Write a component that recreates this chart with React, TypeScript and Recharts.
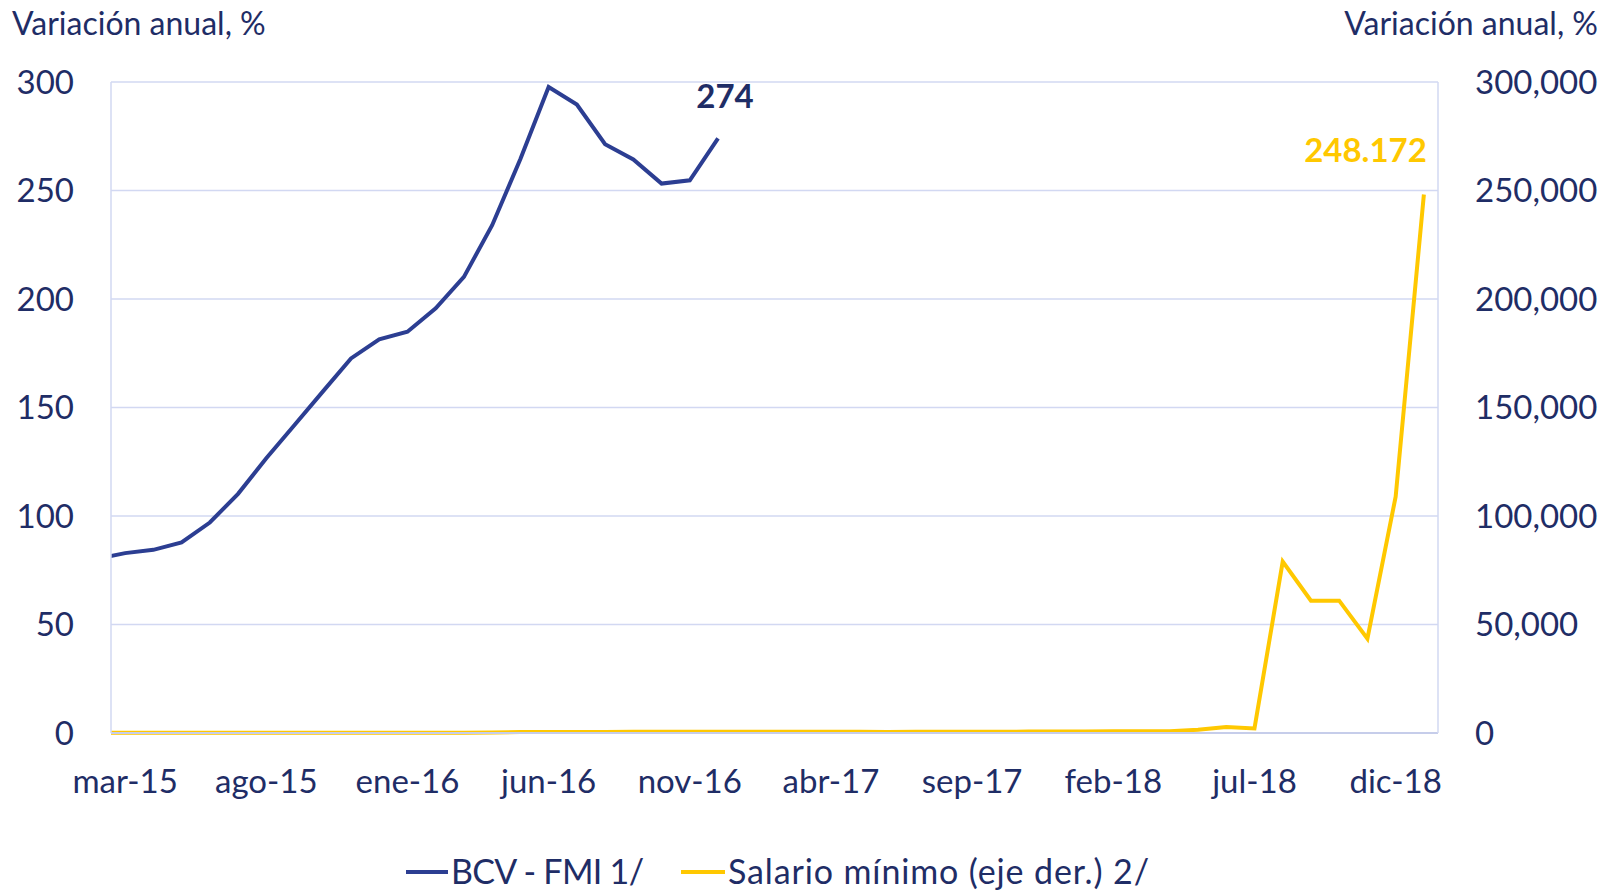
import React from 'react';
import { LineChart, Line, XAxis, YAxis, CartesianGrid, LabelList } from 'recharts';

// Monthly categories (feb-15 is just before the visible window and is clipped at the left edge)
const months = [
  'feb-15', 'mar-15', 'abr-15', 'may-15', 'jun-15', 'jul-15', 'ago-15', 'sep-15', 'oct-15', 'nov-15', 'dic-15',
  'ene-16', 'feb-16', 'mar-16', 'abr-16', 'may-16', 'jun-16', 'jul-16', 'ago-16', 'sep-16', 'oct-16', 'nov-16', 'dic-16',
  'ene-17', 'feb-17', 'mar-17', 'abr-17', 'may-17', 'jun-17', 'jul-17', 'ago-17', 'sep-17', 'oct-17', 'nov-17', 'dic-17',
  'ene-18', 'feb-18', 'mar-18', 'abr-18', 'may-18', 'jun-18', 'jul-18', 'ago-18', 'sep-18', 'oct-18', 'nov-18', 'dic-18',
  'ene-19',
];

// BCV - FMI 1/ (left axis, %)
const bcvFmi = [
  80.3, 82.9, 84.4, 87.8, 97.0, 110.2, 126.6, 141.9, 157.3, 172.6, 181.4, 184.9,
  195.7, 210.2, 234.0, 264.5, 297.7, 289.6, 271.3, 264.3, 253.2, 254.7, 274,
];

// Salario mínimo (eje der.) 2/ (right axis, %)
const salarioMinimo = [
  64, 64, 64, 67, 67, 70, 70, 72, 72, 85, 85, 90,
  110, 150, 180, 450, 460, 470, 480, 520, 560, 560, 600,
  600, 580, 570, 520, 520, 500, 520, 530, 560, 600, 650, 700,
  720, 760, 800, 850, 1500, 2800, 2100, 79000, 61000, 61000, 43500, 108900,
  248172,
];

const xTickMonths = ['mar-15', 'ago-15', 'ene-16', 'jun-16', 'nov-16', 'abr-17', 'sep-17', 'feb-18', 'jul-18', 'dic-18'];
const leftTicks = [0, 50, 100, 150, 200, 250, 300];
const rightTicks = [0, 50000, 100000, 150000, 200000, 250000, 300000];

const seriesNames = ['BCV - FMI 1/', 'Salario mínimo (eje der.) 2/'];
const axisTitle = 'Variación anual, %';

const NAVY = '#1F2D66';
const BLUE = '#2C3E92';
const YELLOW = '#FFC800';
const GRID = '#D2D8F2';
const FONT = 'Lato, "Open Sans", sans-serif';

const data = months.map((m, k) => ({
  i: k - 1,
  month: m,
  bcv: k < bcvFmi.length ? bcvFmi[k] : null,
  sal: salarioMinimo[k],
}));

const xTicks = xTickMonths.map((m) => months.indexOf(m) - 1);
const lastBcv = bcvFmi.length - 1;
const lastSal = salarioMinimo.length - 1;

const fmtComma = (v: number) => String(v).replace(/\B(?=(\d{3})+(?!\d))/g, ',');
const fmtDot = (v: number) => String(Math.round(v)).replace(/\B(?=(\d{3})+(?!\d))/g, '.');

const BcvLabel = (props: any) => {
  const { x, y, index, value } = props;
  if (index !== lastBcv || value == null) return null;
  return (
    <text x={x + 7} y={y - 30} textAnchor="middle" fill={NAVY} fontSize={33} fontWeight={700} fontFamily={FONT}>
      {Math.round(value)}
    </text>
  );
};

const SalLabel = (props: any) => {
  const { x, y, index, value } = props;
  if (index !== lastSal || value == null) return null;
  return (
    <text x={x + 3} y={y - 32} textAnchor="end" fill={YELLOW} fontSize={33} fontWeight={700} fontFamily={FONT}>
      {fmtDot(value)}
    </text>
  );
};

export default function App() {
  return (
    <div style={{ position: 'absolute', left: 0, top: 0, width: 1608, height: 891, background: '#fff', fontFamily: FONT }}>
      <LineChart
        width={1608}
        height={891}
        data={data}
        margin={{ top: 82, right: 0, bottom: 98, left: 0 }}
      >
        <CartesianGrid yAxisId="left" vertical={false} stroke={GRID} strokeWidth={1.5} />
        <XAxis
          dataKey="i"
          type="number"
          domain={[-0.5, 46.5]}
          allowDataOverflow
          ticks={xTicks}
          interval={0}
          tickFormatter={(v: number) => months[v + 1]}
          tickLine={false}
          tickSize={0}
          tickMargin={37}
          height={60}
          axisLine={{ stroke: '#C6CDEA', strokeWidth: 2 }}
          tick={{ fill: NAVY, fontSize: 33, fontFamily: FONT }}
        />
        <YAxis
          yAxisId="left"
          orientation="left"
          domain={[0, 300]}
          ticks={leftTicks}
          interval={0}
          width={111}
          tickLine={false}
          tickSize={0}
          tickMargin={37}
          axisLine={{ stroke: GRID, strokeWidth: 1.5 }}
          tick={{ fill: NAVY, fontSize: 33, fontFamily: FONT }}
        />
        <YAxis
          yAxisId="right"
          orientation="right"
          domain={[0, 300000]}
          ticks={rightTicks}
          interval={0}
          width={170}
          tickLine={false}
          tickSize={0}
          tickMargin={37}
          tickFormatter={(v: number) => fmtComma(v)}
          axisLine={{ stroke: GRID, strokeWidth: 1.5 }}
          tick={{ fill: NAVY, fontSize: 33, fontFamily: FONT, textAnchor: 'start' }}
        />
        <Line
          yAxisId="right"
          type="linear"
          dataKey="sal"
          name={seriesNames[1]}
          stroke={YELLOW}
          strokeWidth={4}
          dot={false}
          activeDot={false}
          isAnimationActive={false}
        >
          <LabelList dataKey="sal" content={SalLabel} />
        </Line>
        <Line
          yAxisId="left"
          type="linear"
          dataKey="bcv"
          name={seriesNames[0]}
          stroke={BLUE}
          strokeWidth={4}
          dot={false}
          activeDot={false}
          connectNulls={false}
          isAnimationActive={false}
        >
          <LabelList dataKey="bcv" content={BcvLabel} />
        </Line>
      </LineChart>
      <svg
        width={1608}
        height={891}
        style={{ position: 'absolute', left: 0, top: 0, pointerEvents: 'none' }}
      >
        <text x={12} y={35} fill={NAVY} fontSize={32} fontFamily={FONT}>{axisTitle}</text>
        <text x={1598} y={35} fill={NAVY} fontSize={32} fontFamily={FONT} textAnchor="end">{axisTitle}</text>
        <line x1={406} y1={872} x2={448} y2={872} stroke={BLUE} strokeWidth={4} />
        <text x={451} y={884} fill={NAVY} fontSize={34} fontFamily={FONT} textLength={193} lengthAdjust="spacing">{seriesNames[0]}</text>
        <line x1={681} y1={872} x2={725} y2={872} stroke={YELLOW} strokeWidth={4} />
        <text x={728} y={884} fill={NAVY} fontSize={34} fontFamily={FONT} textLength={421} lengthAdjust="spacing">{seriesNames[1]}</text>
      </svg>
    </div>
  );
}
